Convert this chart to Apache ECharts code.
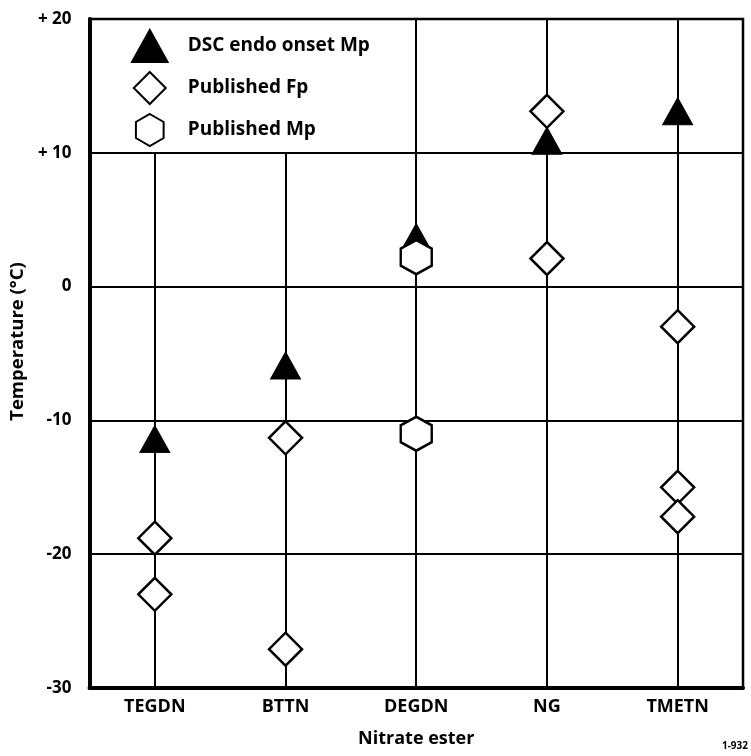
<!DOCTYPE html>
<html>
<head>
<meta charset="utf-8">
<script src="https://cdn.jsdelivr.net/npm/echarts@6/dist/echarts.min.js"></script>
<style>
html,body{margin:0;padding:0;background:#fff;}
#chart{width:751px;height:756px;}
</style>
</head>
<body>
<div id="chart"></div>
<script>
const categories = ['TEGDN', 'BTTN', 'DEGDN', 'NG', 'TMETN'];
const dscOnsetMp = [['TEGDN', -11.4], ['BTTN', -5.9], ['DEGDN', 3.7], ['NG', 10.9], ['TMETN', 13.1]];
const publishedFp = [['TEGDN', -18.8], ['TEGDN', -23.0], ['BTTN', -11.3], ['BTTN', -27.1],
                     ['NG', 13.1], ['NG', 2.1], ['TMETN', -3.0], ['TMETN', -15.0], ['TMETN', -17.2]];
const publishedMp = [['DEGDN', 2.2], ['DEGDN', -11.0]];
const stemTop = [10, 10, 20, 20, 20];
const stemBottom = -30;
const yTickLabels = {'-30': '-30', '-20': '-20', '-10': '-10', '0': '0', '10': '+ 10', '20': '+ 20'};

const FONT = "'Open Sans', 'Noto Sans', sans-serif";
const TRI = 'path://M15,0L30,27L0,27Z';
const DIA = 'path://M0,-1L1,0L0,1L-1,0Z';
const HEX = 'path://M0,-1L0.866,-0.5L0.866,0.5L0,1L-0.866,0.5L-0.866,-0.5Z';

const chart = echarts.init(document.getElementById('chart'), null, {renderer: 'canvas'});
chart.setOption({
  animation: false,
  backgroundColor: '#fff',
  grid: {left: 88, right: 8, top: 19, bottom: 68, show: true, borderColor: '#000', borderWidth: 2.5, backgroundColor: 'transparent'},
  legend: {
    orient: 'vertical', left: 126, top: 24, itemWidth: 66, itemHeight: 32, itemGap: 8,
    selectedMode: false,
    textStyle: {fontSize: 19, fontWeight: 'bold', color: '#000', fontFamily: FONT},
    data: ['DSC endo onset Mp', 'Published Fp', 'Published Mp']
  },
  xAxis: {
    type: 'category', data: categories, boundaryGap: true,
    axisLine: {onZero: false, lineStyle: {color: '#000', width: 4}},
    axisTick: {show: false},
    axisLabel: {margin: 10, fontSize: 18, fontWeight: 'bold', color: '#000', fontFamily: FONT},
    splitLine: {show: false},
    name: 'Nitrate ester', nameLocation: 'middle', nameGap: 42,
    nameTextStyle: {fontSize: 18, fontWeight: 'bold', color: '#000', fontFamily: FONT}
  },
  yAxis: {
    type: 'value', min: -30, max: 20, interval: 10,
    axisLine: {show: true, onZero: false, lineStyle: {color: '#000', width: 4}},
    axisTick: {show: false},
    axisLabel: {margin: 18, fontSize: 17, fontWeight: 'bold', color: '#000', fontFamily: FONT,
      formatter: v => yTickLabels[String(v)]},
    splitLine: {show: true, lineStyle: {color: '#000', width: 2}},
    name: 'Temperature (°C)', nameLocation: 'middle', nameGap: 50, nameRotate: 90,
    nameTextStyle: {fontSize: 18.5, fontWeight: 'bold', color: '#000', fontFamily: FONT, padding: [0, 0, 0, 24]}
  },
  series: [
    {
      name: 'DSC endo onset Mp', type: 'scatter', z: 2,
      symbol: TRI, symbolSize: [30, 27],
      itemStyle: {color: '#000', borderColor: '#000', borderWidth: 1, opacity: 1},
      data: dscOnsetMp,
      markLine: {
        z: 1, silent: true, symbol: ['none', 'none'], label: {show: false},
        lineStyle: {color: '#000', width: 2, type: 'solid'},
        data: categories.map((c, i) => [{coord: [c, stemBottom]}, {coord: [c, stemTop[i]]}])
      }
    },
    {
      name: 'Published Fp', type: 'scatter', z: 3,
      symbol: DIA, symbolSize: [33, 33],
      itemStyle: {color: '#fff', borderColor: '#000', borderWidth: 2.5, opacity: 1},
      data: publishedFp
    },
    {
      name: 'Published Mp', type: 'scatter', z: 4,
      symbol: HEX, symbolSize: [31, 34],
      itemStyle: {color: '#fff', borderColor: '#000', borderWidth: 2.5, opacity: 1},
      data: publishedMp
    }
  ],
  graphic: [{
    type: 'text', right: 3, top: 741,
    style: {text: '1-932', fontSize: 10, fontWeight: 'bold', fill: '#000', fontFamily: FONT}
  }]
});
</script>
</body>
</html>
